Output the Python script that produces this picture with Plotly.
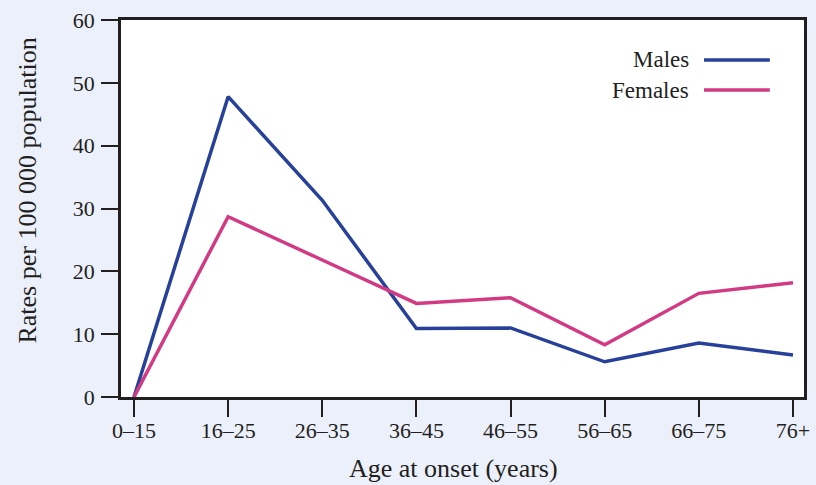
import plotly.graph_objects as go

age_groups = ["0–15", "16–25", "26–35", "36–45", "46–55", "56–65", "66–75", "76+"]
males = [0, 47.8, 31.3, 10.9, 11.0, 5.6, 8.6, 6.7]
females = [0, 28.7, 21.8, 14.9, 15.8, 8.3, 16.5, 18.2]
series_names = ["Males", "Females"]
series_colors = ["#27419a", "#d23a84"]
x_title = "Age at onset (years)"
y_title = "Rates per 100 000 population"

FONT = "Liberation Serif, Times New Roman, serif"
TXT = "#231f20"

fig = go.Figure()
for name, vals, col in zip(series_names, [males, females], series_colors):
    fig.add_trace(go.Scatter(x=age_groups, y=vals, mode="lines", name=name,
                             line=dict(color=col, width=3.5), showlegend=False))

# Custom legend (text left of line)
leg_y = [0.894, 0.814]
for name, col, yy in zip(series_names, series_colors, leg_y):
    fig.add_annotation(x=0.8346, y=yy, xref="paper", yref="paper", text=name,
                       showarrow=False, xanchor="right", yanchor="middle",
                       font=dict(family=FONT, size=23, color=TXT))
    fig.add_shape(type="line", xref="paper", yref="paper", x0=0.8536, x1=0.950,
                  y0=yy, y1=yy, line=dict(color=col, width=3.5))

# Axis titles
fig.add_annotation(x=-0.1376, y=0.5477, xref="paper", yref="paper", text=y_title,
                   textangle=-90, showarrow=False, xanchor="center", yanchor="middle",
                   font=dict(family=FONT, size=26, color=TXT))
fig.add_annotation(x=(453 - 121) / 683, y=(397 - 469) / 377, xref="paper", yref="paper",
                   text=x_title, showarrow=False, xanchor="center", yanchor="middle",
                   font=dict(family=FONT, size=26, color=TXT))

fig.update_layout(
    width=816, height=485,
    margin=dict(l=121, r=12, t=20, b=88),
    paper_bgcolor="#ecf0fb", plot_bgcolor="white",
    font=dict(family=FONT, size=22, color=TXT),
    xaxis=dict(type="category", range=[-0.138, 7.117], showgrid=False, zeroline=False,
               automargin=False,
               showline=True, linecolor="#231f20", linewidth=2.5, mirror=True,
               ticks="outside", ticklen=17, tickwidth=1.5, tickcolor="#231f20",
               tickfont=dict(size=22), ticklabelstandoff=-5),
    yaxis=dict(range=[0, 60], dtick=10, showgrid=False, zeroline=False,
               automargin=False,
               showline=True, linecolor="#231f20", linewidth=2.5, mirror=True,
               ticks="outside", ticklen=17, tickwidth=1.5, tickcolor="#231f20",
               tickfont=dict(size=22), ticklabelstandoff=2),
)

fig.write_html("out.html", config={"displayModeBar": False},
               post_script="document.body.style.margin='0px';")
